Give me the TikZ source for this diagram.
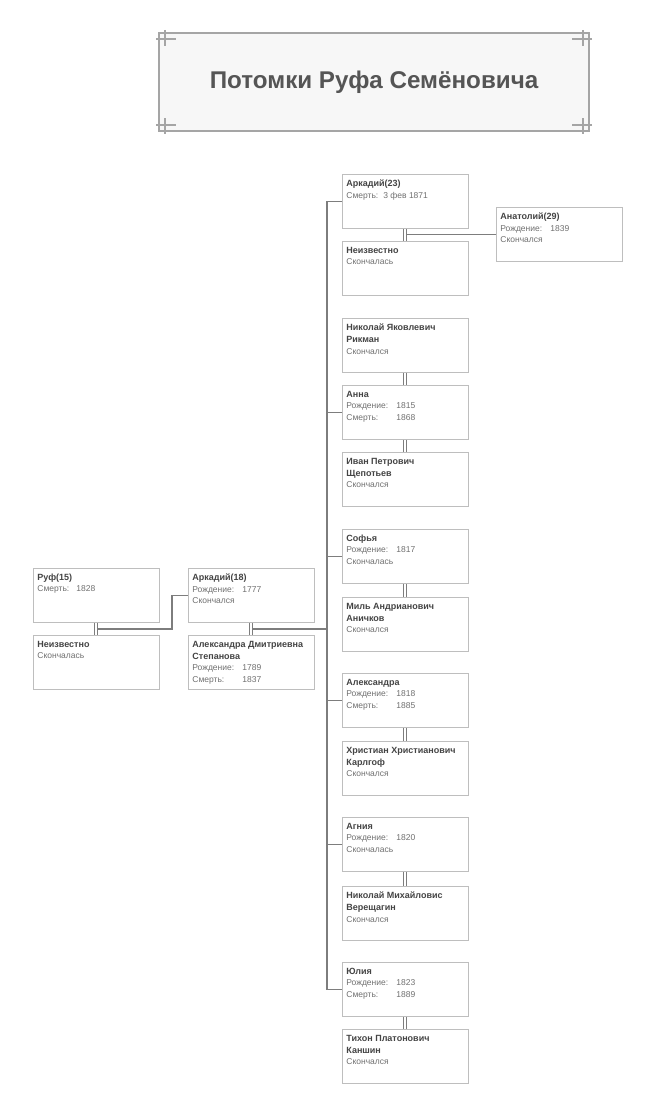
\documentclass[tikz,border=0pt]{standalone}
\usepackage{fontspec}
\setmainfont{Liberation Sans}
\definecolor{rod_frame}{RGB}{165, 165, 165}
\definecolor{rod_paper}{RGB}{247, 247, 247}
\definecolor{rod_title}{RGB}{85, 85, 85}
\definecolor{rod_box}{RGB}{190, 190, 190}
\definecolor{rod_line}{RGB}{125, 125, 125}
\definecolor{rod_name}{RGB}{68, 68, 68}
\definecolor{rod_info}{RGB}{112, 112, 112}
\usepackage{tikz}
\usetikzlibrary{calc}

\newcommand{\famcard}[1]{\parbox[t][46pt][t]{118pt}{\raggedright\vspace{1.5pt}#1}}
\newcommand{\nm}[1]{{\fontsize{9}{12.3}\selectfont\bfseries\color{rod_name}#1\par}}
\newcommand{\dt}[1]{{\fontsize{8.5}{11.5}\selectfont\color{rod_info}#1\par}}
\newcommand{\dl}[2]{\makebox[50pt][l]{#1}#2}

\begin{document}
\begin{tikzpicture}[x=1pt, y=-1pt,
    person/.style={draw=rod_box, line width=0.8pt, fill=white,
                   anchor=north west, inner sep=4pt},
    link/.style={draw=rod_line, line width=1.2pt}]
  \useasboundingbox (0,0) rectangle (665,1099);

  % title
  \node[draw=rod_frame, line width=2pt, fill=rod_paper,
        minimum width=430pt, minimum height=98pt] (title) at (374,82)
        {\fontsize{24.2}{28}\selectfont\bfseries\color{rod_title}Потомки Руфа Семёновича};
  \foreach \cn/\sx/\sy in {north west/1/1, north east/-1/1,
                           south west/1/-1, south east/-1/-1}{
    \draw[rod_frame, line width=1.5pt]
      ($(title.\cn)+(\sx*7,-\sy*2)$) -- ++(0,\sy*16);
    \draw[rod_frame, line width=1.5pt]
      ($(title.\cn)+(-\sx*2,\sy*7)$) -- ++(\sx*20,0);
  }

  % generation 1
  \node[person] (ruf) at (33,568)
    {\famcard{\nm{Руф(15)}\dt{Смерть:\hspace{7pt}1828}}};
  \node[person] (rufw) at (33,635)
    {\famcard{\nm{Неизвестно}\dt{Скончалась}}};

  % generation 2
  \node[person] (ark18) at (188,568)
    {\famcard{\nm{Аркадий(18)}\dt{\dl{Рождение:}{1777}}\dt{Скончался}}};
  \node[person] (alex18) at (188,635)
    {\famcard{\nm{Александра Дмитриевна\\Степанова}%
      \dt{\dl{Рождение:}{1789}}\dt{\dl{Смерть:}{1837}}}};

  % generation 3
  \node[person] (ark23) at (342,174)
    {\famcard{\nm{Аркадий(23)}\dt{Смерть:\hspace{5pt}3 фев 1871}}};
  \node[person] (ark23w) at (342,241)
    {\famcard{\nm{Неизвестно}\dt{Скончалась}}};
  \node[person] (anatoly) at (496,207)
    {\famcard{\nm{Анатолий(29)}\dt{\dl{Рождение:}{1839}}\dt{Скончался}}};

  \node[person] (rikman) at (342,318)
    {\famcard{\nm{Николай Яковлевич\\Рикман}\dt{Скончался}}};
  \node[person] (anna) at (342,385)
    {\famcard{\nm{Анна}\dt{\dl{Рождение:}{1815}}\dt{\dl{Смерть:}{1868}}}};
  \node[person] (schep) at (342,452)
    {\famcard{\nm{Иван Петрович\\Щепотьев}\dt{Скончался}}};

  \node[person] (sofya) at (342,529)
    {\famcard{\nm{Софья}\dt{\dl{Рождение:}{1817}}\dt{Скончалась}}};
  \node[person] (anichkov) at (342,597)
    {\famcard{\nm{Миль Андрианович\\Аничков}\dt{Скончался}}};

  \node[person] (aleks) at (342,673)
    {\famcard{\nm{Александра}\dt{\dl{Рождение:}{1818}}\dt{\dl{Смерть:}{1885}}}};
  \node[person] (karlgof) at (342,741)
    {\famcard{\nm{Христиан Христианович\\Карлгоф}\dt{Скончался}}};

  \node[person] (agniya) at (342,817)
    {\famcard{\nm{Агния}\dt{\dl{Рождение:}{1820}}\dt{Скончалась}}};
  \node[person] (vereshch) at (342,886)
    {\famcard{\nm{Николай Михайловис\\Верещагин}\dt{Скончался}}};

  \node[person] (yulia) at (342,962)
    {\famcard{\nm{Юлия}\dt{\dl{Рождение:}{1823}}\dt{\dl{Смерть:}{1889}}}};
  \node[person] (kanshin) at (342,1029)
    {\famcard{\nm{Тихон Платонович\\Каншин}\dt{Скончался}}};

  % marriages
  \foreach \a/\b in {ruf/rufw, ark18/alex18, ark23/ark23w, rikman/anna,
                     anna/schep, sofya/anichkov, aleks/karlgof,
                     agniya/vereshch, yulia/kanshin}
    \foreach \dx in {-1.5,1.5}
      \draw[link, line width=0.9pt] ([xshift=\dx pt]\a.south) -- ([xshift=\dx pt]\b.north);

  \coordinate (m15) at ($(ruf.south)!0.5!(rufw.north)$);
  \coordinate (m18) at ($(ark18.south)!0.5!(alex18.north)$);
  \coordinate (m23) at ($(ark23.south)!0.5!(ark23w.north)$);
  \coordinate (trunk) at ([xshift=-15pt]ark23.west);

  % children
  \draw[link] ([xshift=1.5pt]m15) -- ++(74,0) |- (ark18.west);
  \draw[link] ([xshift=1.5pt]m18) -- (m18 -| trunk);
  \draw[link] (ark23.west) -- (trunk) |- (yulia.west);
  \foreach \c in {anna, sofya, aleks, agniya}
    \draw[link] (\c.west) -- ++(-15,0);
  \draw[link] ([xshift=1.5pt]m23) -- (m23 -| anatoly.west);
\end{tikzpicture}
\end{document}
